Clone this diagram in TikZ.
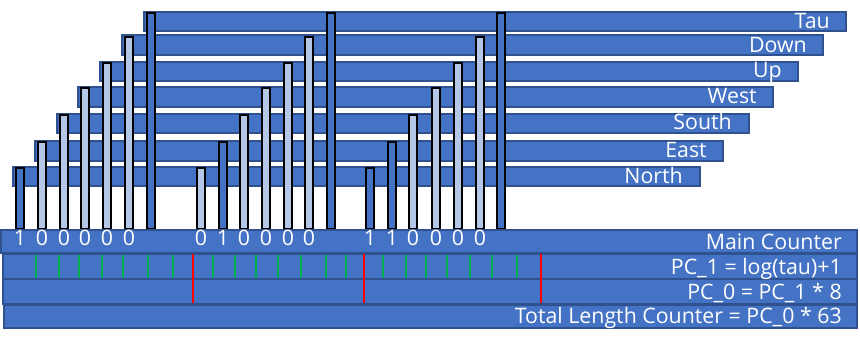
\documentclass[tikz,border=0pt]{standalone}
\usepackage{fontspec}
\setmainfont{Open Sans}
\definecolor{barblue}{HTML}{4472C4}
\definecolor{barline}{HTML}{2F528F}
\definecolor{bitlight}{HTML}{B4C7E7}
\definecolor{tickgreen}{HTML}{00B050}
\definecolor{tickred}{HTML}{FF0000}

\begin{document}
\begin{tikzpicture}[x=0.75pt, y=-0.75pt,
  bar/.style={fill=barblue, draw=barline, line width=1pt},
  pillar/.style={fill=#1, draw=black, line width=1.6pt},
  ctrrow/.style={fill=barblue, draw=barline, line width=1.2pt},
  lbl/.style={font=\fontsize{16}{19}\selectfont, text=white,
              anchor=base east, inner sep=0pt},
  bit/.style={font=\fontsize{16}{19}\selectfont, text=white,
              anchor=base, inner sep=0pt},
  gtick/.style={tickgreen, line width=1.1pt},
  rtick/.style={tickred, line width=1.3pt},
]
\useasboundingbox (0,0) rectangle (860,348);

%% ---- direction bars ----
\draw[bar] (13,167) rectangle (700,186);
\draw[bar] (35,141) rectangle (723,161);
\draw[bar] (57,114) rectangle (749,133);
\draw[bar] (78,87)  rectangle (773,107);
\draw[bar] (100,62) rectangle (798,81);
\draw[bar] (122,35) rectangle (823,55);
\draw[bar] (144,12) rectangle (846,31);

\node[lbl] (north) at (683,184) {North};
\node[lbl] (east)  at (707,158) {East};
\node[lbl] (south) at (732,130) {South};
\node[lbl] (west)  at (757,104) {West};
\node[lbl] (up)    at (782,78)  {Up};
\node[lbl] (down)  at (807,53)  {Down};
\node[lbl] (tau)   at (830,29)  {Tau};

%% ---- pillars, first step: 1 0 0 0 0 0 ----
\draw[pillar=barblue]  (16,168)  rectangle (24,229);
\draw[pillar=bitlight] (38,142)  rectangle (46,229);
\draw[pillar=bitlight] (60,115)  rectangle (68,229);
\draw[pillar=bitlight] (81,88)   rectangle (89,229);
\draw[pillar=bitlight] (103,63)  rectangle (111,229);
\draw[pillar=bitlight] (125,37)  rectangle (133,229);
\draw[pillar=barblue]  (147,13)  rectangle (155,229);

%% ---- pillars, second step: 0 1 0 0 0 0 ----
\draw[pillar=bitlight] (197,168) rectangle (205,229);
\draw[pillar=barblue]  (219,142) rectangle (227,229);
\draw[pillar=bitlight] (240,115) rectangle (248,229);
\draw[pillar=bitlight] (262,88)  rectangle (270,229);
\draw[pillar=bitlight] (284,63)  rectangle (292,229);
\draw[pillar=bitlight] (305,37)  rectangle (313,229);
\draw[pillar=barblue]  (327,13)  rectangle (335,229);

%% ---- pillars, third step: 1 1 0 0 0 0 ----
\draw[pillar=barblue]  (366,168) rectangle (374,229);
\draw[pillar=barblue]  (388,142) rectangle (396,229);
\draw[pillar=bitlight] (409,115) rectangle (417,229);
\draw[pillar=bitlight] (432,88)  rectangle (440,229);
\draw[pillar=bitlight] (454,63)  rectangle (462,229);
\draw[pillar=bitlight] (476,37)  rectangle (484,229);
\draw[pillar=barblue]  (497,13)  rectangle (505,229);

%% ---- counters ----
\draw[ctrrow] (1,230) rectangle (857,253);
\draw[ctrrow] (3,254) rectangle (857,279);
\draw[ctrrow] (3,279) rectangle (857,304);
\draw[ctrrow] (4,305) rectangle (857,328);

\node[lbl] (main)  at (842,250) {Main Counter};
\node[lbl] (pcone) at (842,275) {PC\_1 = log(tau)+1};
\node[lbl] (pczero) at (842,300) {PC\_0 = PC\_1 * 8};
\node[lbl] (total) at (842,324) {Total Length Counter = PC\_0 * 63};

% bits of the main counter, one under each pillar
\node[bit] (a0) at (20,246) {1};  \node[bit] (a1) at (42,246) {0};
\node[bit] (a2) at (64,246) {0};  \node[bit] (a3) at (85,246) {0};
\node[bit] (a4) at (107,246) {0}; \node[bit] (a5) at (129,246) {0};
\node[bit] (b0) at (201,246) {0}; \node[bit] (b1) at (223,246) {1};
\node[bit] (b2) at (244,246) {0}; \node[bit] (b3) at (266,246) {0};
\node[bit] (b4) at (288,246) {0}; \node[bit] (b5) at (309,246) {0};
\node[bit] (c0) at (370,246) {1}; \node[bit] (c1) at (392,246) {1};
\node[bit] (c2) at (413,246) {0}; \node[bit] (c3) at (436,246) {0};
\node[bit] (c4) at (458,246) {0}; \node[bit] (c5) at (480,246) {0};

%% ---- ticks of PC_1 and PC_0 ----
\draw[gtick] (36,255) -- ++(0,23) (59,255) -- ++(0,23)
  (79,255) -- ++(0,23) (102,255) -- ++(0,23) (123,255) -- ++(0,23)
  (148,255) -- ++(0,23) (173,255) -- ++(0,23);
\draw[gtick] (213,255) -- ++(0,23) (235,255) -- ++(0,23)
  (256,255) -- ++(0,23) (278,255) -- ++(0,23) (301,255) -- ++(0,23)
  (326,255) -- ++(0,23) (346,255) -- ++(0,23);
\draw[gtick] (383,255) -- ++(0,23) (406,255) -- ++(0,23)
  (426,255) -- ++(0,23) (447,255) -- ++(0,23) (470,255) -- ++(0,23)
  (492,255) -- ++(0,23) (517,255) -- ++(0,23);
\draw[rtick] (193,254) -- ++(0,49) (364,254) -- ++(0,49)
  (541,254) -- ++(0,49);

\end{tikzpicture}
\end{document}
